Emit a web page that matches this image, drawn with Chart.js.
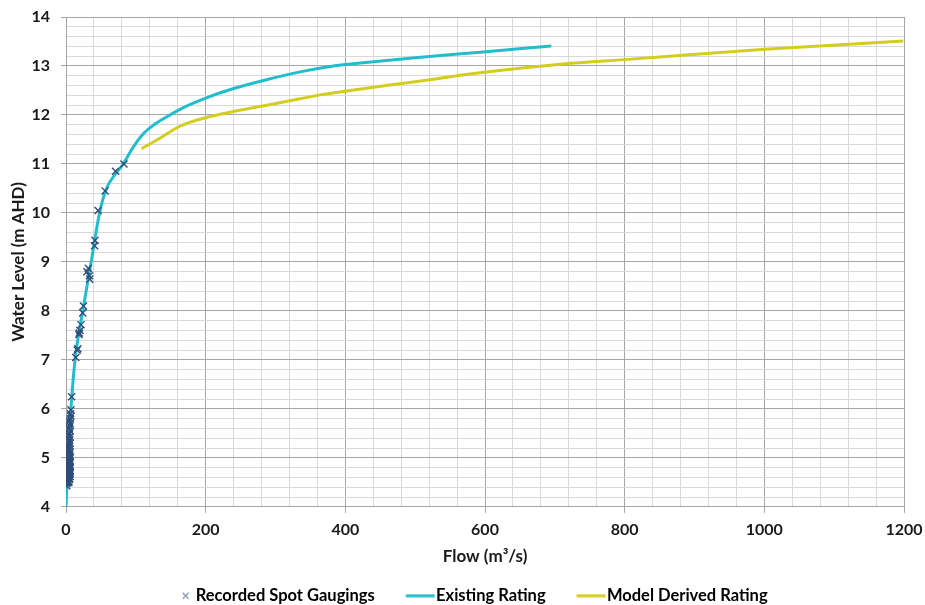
<!DOCTYPE html>
<html>
<head>
<meta charset="utf-8">
<script src="https://cdn.jsdelivr.net/npm/chart.js@4.4.1/dist/chart.umd.min.js"></script>
<style>
    html, body { margin: 0; padding: 0; background: #fff; }
    #wrap { width: 925px; height: 605px; }
</style>
</head>
<body>
<div id="wrap"><canvas id="chart" width="925" height="605"></canvas></div>
<script>
// recorded spot gaugings (flow m3/s, level m AHD)
const gaugingFlow = [83, 71, 56, 46, 41.5, 41, 32, 33.5, 34, 30, 25, 24, 21.5, 20, 18.6, 19, 17, 16, 14,
    8, 7, 6.5, 7, 6, 5, 6, 5.5, 4.5, 6, 5, 4, 5.5, 3.5, 5, 4, 6, 3, 5,
    1, 4, 2, 5, 0, 3, 6, 1, 4, 2, 5, 0, 3, 6, 1, 4, 2, 5, 0, 3, 6, 1, 4, 2, 5, 0, 3, 6,
    1, 4, 2, 5, 0, 3, 6, 1, 4, 2, 5, 0, 3, 6, 1, 4, 2, 5, 0, 3, 1, 4, 2, 1,
    3, 0, 5, 2, 4, 1, 6, 3, 0, 5, 2, 4, 1, 6, 3, 0, 5, 2, 4, 1];
const gaugingLevel = [11.0, 10.85, 10.45, 10.05, 9.44, 9.33, 8.87, 8.72, 8.65, 8.8, 8.1, 7.96, 7.72, 7.6, 7.52, 7.55, 7.23, 7.2, 7.05,
    6.25, 5.98, 5.9, 5.85, 5.8, 5.75, 5.7, 5.65, 5.6, 5.55, 5.5, 5.47, 5.43, 5.4, 5.36, 5.32, 5.3, 5.27, 5.24,
    5.2, 5.2, 5.17, 5.16, 5.14, 5.13, 5.12, 5.1, 5.09, 5.07, 5.06, 5.04, 5.03, 5.02, 5.0, 4.99, 4.97, 4.96, 4.94, 4.93, 4.92, 4.9, 4.89, 4.87, 4.86, 4.84, 4.83, 4.82,
    4.8, 4.79, 4.77, 4.76, 4.74, 4.73, 4.72, 4.7, 4.69, 4.67, 4.66, 4.64, 4.63, 4.62, 4.6, 4.59, 4.57, 4.56, 4.54, 4.53, 4.51, 4.5, 4.5, 4.43,
    5.18, 5.11, 5.08, 5.01, 4.98, 4.95, 4.91, 4.88, 4.85, 4.81, 4.78, 4.75, 4.71, 4.68, 4.65, 4.61, 4.58, 4.55, 4.52, 4.48];

// existing rating curve
const existingFlow = [0, 3, 7, 13, 24, 36, 48, 58, 70, 82, 96, 111, 125, 144, 168, 201, 240, 287, 335, 383, 407, 500, 593, 695];
const existingLevel = [4.0, 5.0, 6.0, 7.0, 8.0, 9.0, 10.0, 10.5, 10.78, 11.0, 11.34, 11.62, 11.79, 11.96, 12.15, 12.35, 12.54, 12.72, 12.88, 13.0, 13.04, 13.17, 13.28, 13.41];

// model derived rating curve
const modelFlow = [108, 135, 163, 201, 240, 287, 335, 364, 407, 500, 593, 719, 800, 1001, 1199];
const modelLevel = [11.31, 11.53, 11.77, 11.95, 12.07, 12.2, 12.33, 12.41, 12.5, 12.68, 12.86, 13.05, 13.13, 13.34, 13.51];

// axes
const flowRange = [0, 1200];
const flowMajor = 200;
const flowMinor = 40;
const levelRange = [4, 14];
const levelMinor = 0.2;

const seriesNames = ['Recorded Spot Gaugings', 'Existing Rating', 'Model Derived Rating'];

const cyan = '#22BDCC';
const yellow = '#D3CE1E';
const crossColor = '#2f4d7a';
const majorGrid = '#a6a6a6';
const minorGrid = '#d9d9d9';
const fontFamily = 'Lato, "Liberation Sans", sans-serif';

function toPoints(xs, ys) {
    return xs.map((x, i) => ({x: x, y: ys[i]}));
}

function markCanvas(w, h, draw) {
    let c = document.createElement('canvas');
    c.width = w;
    c.height = h;
    draw(c.getContext('2d'));
    return c;
}

// legend marks: the box is 51px wide, marks sit at its right end next to the text
const crossMark = markCanvas(60, 10, g => {
    g.strokeStyle = '#8393ab';
    g.lineWidth = 1.2;
    g.beginPath();
    g.moveTo(50.75, 2); g.lineTo(56.75, 8);
    g.moveTo(56.75, 2); g.lineTo(50.75, 8);
    g.stroke();
});
const lineMark = color => markCanvas(66, 4, g => {
    g.fillStyle = color;
    g.fillRect(36.5, 0.5, 29, 3);
});

const isMajorX = v => Math.abs(v % flowMajor) < 1e-6;
const isMajorY = v => Math.abs(v - Math.round(v)) < 1e-6;

Chart.defaults.font.family = fontFamily;
Chart.defaults.font.weight = 'bold';
Chart.defaults.color = '#1a1a1a';

const ctx = document.getElementById('chart').getContext('2d');
new Chart(ctx, {
    type: 'scatter',
    data: {
        datasets: [{
            label: seriesNames[0],
            data: toPoints(gaugingFlow, gaugingLevel),
            pointStyle: 'crossRot',
            pointRadius: 5,
            pointBorderWidth: 1.4,
            borderColor: crossColor,
            backgroundColor: crossColor,
            order: 0
        }, {
            label: seriesNames[1],
            data: toPoints(existingFlow, existingLevel),
            showLine: true,
            borderColor: cyan,
            backgroundColor: cyan,
            borderWidth: 3,
            pointRadius: 0,
            cubicInterpolationMode: 'monotone',
            order: 1
        }, {
            label: seriesNames[2],
            data: toPoints(modelFlow, modelLevel),
            showLine: true,
            borderColor: yellow,
            backgroundColor: yellow,
            borderWidth: 3,
            pointRadius: 0,
            cubicInterpolationMode: 'monotone',
            order: 2
        }]
    },
    options: {
        responsive: false,
        animation: false,
        layout: {
            padding: {top: 17, right: 21, left: 0, bottom: -9}
        },
        plugins: {
            tooltip: {enabled: false},
            legend: {
                position: 'bottom',
                labels: {
                    usePointStyle: true,
                    pointStyleWidth: 51,
                    padding: 2,
                    color: '#1a1a1a',
                    font: {size: 16.5, weight: 'bold'},
                    generateLabels: chart => chart.data.datasets.map((ds, i) => ({
                        text: ds.label,
                        pointStyle: i === 0 ? crossMark : lineMark(ds.borderColor),
                        fillStyle: ds.borderColor,
                        strokeStyle: ds.borderColor,
                        lineWidth: 0,
                        hidden: false,
                        datasetIndex: i
                    }))
                }
            }
        },
        scales: {
            x: {
                type: 'linear',
                min: flowRange[0],
                max: flowRange[1],
                afterFit: scale => { scale.paddingRight = 0; },
                ticks: {
                    stepSize: flowMinor,
                    autoSkip: false,
                    maxRotation: 0,
                    padding: 7,
                    font: {size: 16, weight: 'bold'},
                    callback: v => isMajorX(v) ? v : ''
                },
                grid: {
                    color: c => c.tick && isMajorX(c.tick.value) ? majorGrid : minorGrid,
                    tickColor: c => c.tick && isMajorX(c.tick.value) ? majorGrid : 'rgba(0,0,0,0)',
                    tickLength: 6
                },
                border: {color: majorGrid},
                title: {
                    display: true,
                    text: 'Flow (m³/s)',
                    font: {size: 17, weight: 'bold'},
                    padding: {top: 0, bottom: 19}
                }
            },
            y: {
                type: 'linear',
                min: levelRange[0],
                max: levelRange[1],
                afterFit: scale => {
                    scale.width = 66;
                    scale.paddingTop = 0;
                },
                ticks: {
                    stepSize: levelMinor,
                    autoSkip: false,
                    padding: 11,
                    font: {size: 16, weight: 'bold'},
                    callback: v => isMajorY(v) ? Math.round(v) : ''
                },
                grid: {
                    color: c => c.tick && isMajorY(c.tick.value) ? majorGrid : minorGrid,
                    tickColor: c => c.tick && isMajorY(c.tick.value) ? majorGrid : 'rgba(0,0,0,0)',
                    tickLength: 5
                },
                border: {color: majorGrid},
                title: {
                    display: true,
                    text: 'Water Level (m AHD)',
                    font: {size: 17, weight: 'bold'},
                    padding: {top: 8, bottom: 3}
                }
            }
        }
    }
});
</script>
</body>
</html>
